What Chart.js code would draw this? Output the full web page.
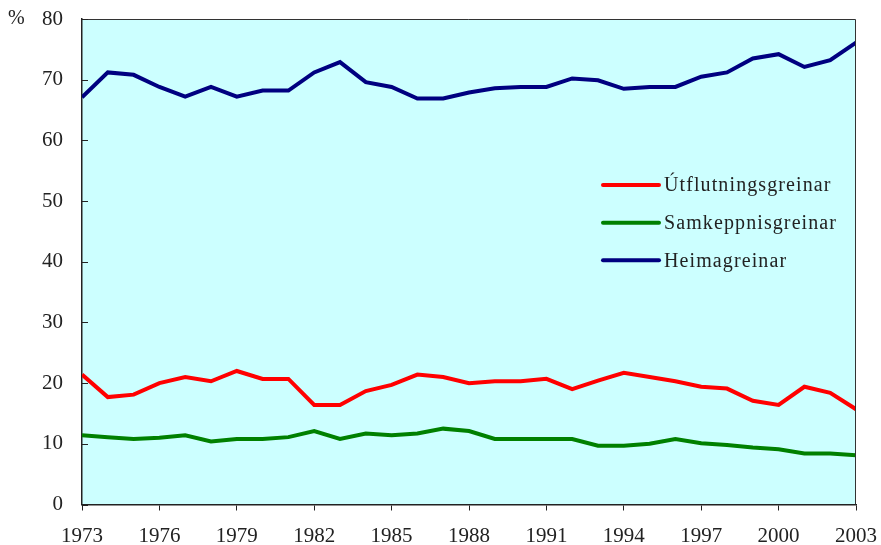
<!DOCTYPE html>
<html>
<head>
<meta charset="utf-8">
<script src="https://cdn.jsdelivr.net/npm/chart.js@4/dist/chart.umd.min.js"></script>
<style>
html,body{margin:0;padding:0;background:#fff;}
#wrap{width:881px;height:545px;}
</style>
</head>
<body>
<div id="wrap"><canvas id="c" width="881" height="545"></canvas></div>
<script>
const years = [1973,1974,1975,1976,1977,1978,1979,1980,1981,1982,1983,1984,1985,1986,1987,1988,1989,1990,1991,1992,1993,1994,1995,1996,1997,1998,1999,2000,2001,2002,2003];
const xTickYears = [1973,1976,1979,1982,1985,1988,1991,1994,1997,2000,2003];
const yTickValues = [0,10,20,30,40,50,60,70,80];
const seriesNames = ['Útflutningsgreinar','Samkeppnisgreinar','Heimagreinar'];
const utflutningsgreinar = [21.4,17.7,18.1,20.0,21.0,20.3,22.0,20.7,20.7,16.4,16.4,18.7,19.7,21.4,21.0,20.0,20.3,20.3,20.7,19.0,20.4,21.7,21.0,20.3,19.4,19.1,17.1,16.4,19.4,18.4,15.7];
const samkeppnisgreinar = [11.4,11.1,10.8,11.0,11.4,10.4,10.8,10.8,11.1,12.1,10.8,11.7,11.4,11.7,12.5,12.1,10.8,10.8,10.8,10.8,9.7,9.7,10.0,10.8,10.1,9.8,9.4,9.1,8.4,8.4,8.1];
const heimagreinar = [67.1,71.2,70.8,68.8,67.2,68.8,67.2,68.2,68.2,71.2,72.9,69.6,68.8,66.9,66.9,67.9,68.6,68.8,68.8,70.2,69.9,68.5,68.8,68.8,70.5,71.2,73.5,74.2,72.1,73.2,76.1];
const colors = ['#ff0000','#008000','#000080'];

const pts = arr => years.map((y,i)=>({x:y,y:arr[i]}));
const FONT = '"Liberation Serif","Times New Roman",serif';
const zeroPad = s => { s.paddingTop = 0; s.paddingBottom = 0; s.paddingLeft = 0; s.paddingRight = 0; };

const decor = {
  id:'decor',
  beforeDraw(chart){
    const {ctx, chartArea:a} = chart;
    ctx.save();
    ctx.fillStyle = '#ccffff';
    ctx.fillRect(a.left, a.top, a.right-a.left, a.bottom-a.top);
    ctx.restore();
  },
  afterDraw(chart){
    const {ctx, chartArea:a, scales} = chart;
    ctx.save();
    ctx.strokeStyle = '#333';
    ctx.lineWidth = 1;
    ctx.beginPath();
    ctx.moveTo(a.left, a.top+0.5); ctx.lineTo(a.right-0.5, a.top+0.5); ctx.lineTo(a.right-0.5, a.bottom);
    ctx.stroke();
    ctx.strokeStyle = '#222';
    yTickValues.forEach(v=>{
      const y = Math.round(scales.y.getPixelForValue(v))+0.5;
      ctx.beginPath(); ctx.moveTo(a.left, y); ctx.lineTo(a.left+6, y); ctx.stroke();
    });
    ctx.fillStyle = '#222';
    ctx.font = '20px ' + FONT;
    ctx.textBaseline = 'middle';
    ctx.textAlign = 'left';
    ctx.fillText('%', 8, scales.y.getPixelForValue(80));
    const lx = 603, ly = [185, 222.7, 260.3];
    ctx.font = '20px ' + FONT;
    try{ ctx.letterSpacing = '1.1px'; }catch(e){}
    seriesNames.forEach((n,i)=>{
      ctx.strokeStyle = colors[i];
      ctx.lineWidth = 4;
      ctx.lineCap = 'round';
      ctx.beginPath(); ctx.moveTo(lx, ly[i]); ctx.lineTo(lx+56, ly[i]); ctx.stroke();
      ctx.fillStyle = '#222';
      ctx.fillText(n, lx+61, ly[i]+1);
    });
    ctx.restore();
  }
};

new Chart(document.getElementById('c'), {
  type:'line',
  data:{
    datasets: seriesNames.map((n,i)=>({
      label:n,
      data: pts([utflutningsgreinar,samkeppnisgreinar,heimagreinar][i]),
      borderColor: colors[i],
      backgroundColor: colors[i],
      borderWidth: 4,
      pointRadius: 0,
      tension: 0,
      fill: false
    }))
  },
  options:{
    responsive:false,
    animation:false,
    devicePixelRatio:1,
    layout:{padding:{top:19, right:25, left:0, bottom:0}},
    plugins:{legend:{display:false}, tooltip:{enabled:false}},
    scales:{
      x:{
        type:'linear',
        min:1973, max:2003,
        afterBuildTicks: s => { s.ticks = xTickYears.map(v=>({value:v})); },
        afterFit: s => { s.height = 40.5; zeroPad(s); },
        grid:{drawOnChartArea:false, drawTicks:true, tickLength:6, color:'#222', tickColor:'#222'},
        border:{color:'#222', width:1.5},
        ticks:{color:'#222', font:{family:FONT, size:21}, padding:13, maxRotation:0, autoSkip:false, callback:v=>String(v)}
      },
      y:{
        min:0, max:80,
        afterBuildTicks: s => { s.ticks = yTickValues.map(v=>({value:v})); },
        afterFit: s => { s.width = 82; zeroPad(s); },
        grid:{drawOnChartArea:false, drawTicks:false},
        border:{color:'#222', width:1.5},
        ticks:{color:'#222', font:{family:FONT, size:21}, padding:19, callback:v=>String(v)}
      }
    }
  },
  plugins:[decor]
});
</script>
</body>
</html>
